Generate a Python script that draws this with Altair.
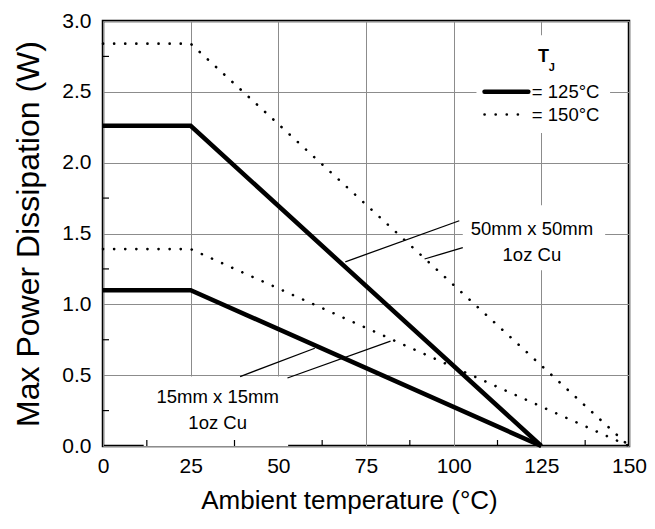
import altair as alt
import pandas as pd

# ---- data ----
x_tj125 = [0, 25, 125]
x_tj150 = [0, 25, 150]
p_50_tj125 = [2.26, 2.26, 0.0]
p_50_tj150 = [2.84, 2.84, 0.0]
p_15_tj125 = [1.10, 1.10, 0.0]
p_15_tj150 = [1.39, 1.39, 0.0]

x_ticks = [0, 25, 50, 75, 100, 125, 150]
y_ticks = [0.0, 0.5, 1.0, 1.5, 2.0, 2.5, 3.0]
x_minor = [12.5, 37.5, 62.5, 87.5, 112.5, 137.5]
y_minor = [0.25, 0.75, 1.25, 1.75, 2.25, 2.75]

# leader lines (start near label, end at curve)
lead_x1 = [101.6, 102.6, 39.1, 52.6]
lead_y1 = [1.59, 1.40, 0.49, 0.48]
lead_x2 = [69.1, 91.7, 60.4, 82.0]
lead_y2 = [1.30, 1.32, 0.69, 0.74]

# white label boxes
box_x1 = [106.5, 102.6, 11.6]
box_x2 = [144.6, 143.2, 52.8]
box_y1 = [2.21, 1.24, 0.0]
box_y2 = [2.90, 1.70, 0.49]

ann_text = ["50mm x 50mm", "1oz Cu", "15mm x 15mm", "1oz Cu"]
ann_x = [122.3, 122.3, 32.7, 32.7]
ann_y = [1.53, 1.35, 0.346, 0.162]

leg_labels = ["= 125°C", "= 150°C"]
leg_line_x1 = [108.8, 108.8]
leg_line_x2 = [121.3, 120.0]
leg_y = [2.50, 2.34]
leg_text_x = [122.3, 122.3]

rows = []
for name, xs, ps, tj in [
    ("50x50 125", x_tj125, p_50_tj125, "125"),
    ("50x50 150", x_tj150, p_50_tj150, "150"),
    ("15x15 125", x_tj125, p_15_tj125, "125"),
    ("15x15 150", x_tj150, p_15_tj150, "150"),
]:
    for xv, pv in zip(xs, ps):
        rows.append({"T": xv, "P": pv, "series": name, "tj": tj})
df = pd.DataFrame(rows)

FONT = "Liberation Sans, Arial"
W, H = 526, 425

xs = alt.Scale(domain=[0, 150], nice=False, zero=False)
ys = alt.Scale(domain=[0, 3.0], nice=False, zero=False)

base = alt.Chart(df)

x_enc = alt.X("T:Q", scale=xs,
              axis=alt.Axis(values=x_ticks, title="Ambient temperature (°C)", grid=True,
                            format="d", ticks=False, domain=False, labelPadding=9,
                            labelFlush=False, titlePadding=11, titleX=246, titleFontSize=26,
                            titleAlign="center", titleAnchor="start"))
y_enc = alt.Y("P:Q", scale=ys,
              axis=alt.Axis(values=y_ticks, title="Max Power Dissipation (W)", grid=True,
                            format=".1f", ticks=False, domain=False, labelPadding=12,
                            labelFlush=False, titlePadding=16, titleFontSize=32))

boxes = alt.Chart(pd.DataFrame({"x1": box_x1, "x2": box_x2, "y1": box_y1, "y2": box_y2})).mark_rect(
    fill="white").encode(
    x=alt.X("x1:Q", scale=xs), x2="x2:Q", y=alt.Y("y1:Q", scale=ys), y2="y2:Q")

lines125 = base.transform_filter(alt.datum.tj == "125").mark_line(
    color="black", strokeWidth=4.5, strokeCap="butt").encode(
    x=x_enc, y=y_enc, detail="series:N")

lines150 = base.transform_filter(alt.datum.tj == "150").mark_line(
    color="black", strokeWidth=2.6, strokeDash=[0.1, 11], strokeCap="round").encode(
    x=alt.X("T:Q", scale=xs), y=alt.Y("P:Q", scale=ys), detail="series:N")

leaders = alt.Chart(pd.DataFrame({"x1": lead_x1, "y1": lead_y1, "x2": lead_x2, "y2": lead_y2})).mark_rule(
    color="black", strokeWidth=1.3).encode(
    x=alt.X("x1:Q", scale=xs), y=alt.Y("y1:Q", scale=ys), x2="x2:Q", y2="y2:Q")

ann = alt.Chart(pd.DataFrame({"t": ann_text, "x": ann_x, "y": ann_y})).mark_text(
    font=FONT, fontSize=18.5, color="black", align="center", baseline="middle").encode(
    x=alt.X("x:Q", scale=xs), y=alt.Y("y:Q", scale=ys), text="t:N")

leg_df = pd.DataFrame({"lab": leg_labels, "x1": leg_line_x1, "x2": leg_line_x2,
                       "y": leg_y, "tx": leg_text_x})
leg_solid = alt.Chart(leg_df.iloc[[0]]).mark_rule(color="black", strokeWidth=4.5, strokeCap="round").encode(
    x=alt.X("x1:Q", scale=xs), x2="x2:Q", y=alt.Y("y:Q", scale=ys))
leg_dot = alt.Chart(leg_df.iloc[[1]]).mark_rule(color="black", strokeWidth=2.6,
                                                strokeDash=[0.1, 11], strokeCap="round").encode(
    x=alt.X("x1:Q", scale=xs), x2="x2:Q", y=alt.Y("y:Q", scale=ys))
leg_txt = alt.Chart(leg_df).mark_text(font=FONT, fontSize=18.5, color="black", align="left",
                                      baseline="middle").encode(
    x=alt.X("tx:Q", scale=xs), y=alt.Y("y:Q", scale=ys), text="lab:N")

tj_t = alt.Chart(pd.DataFrame({"t": ["T"], "x": [125.6], "y": [2.745]})).mark_text(
    font=FONT, fontSize=18, fontWeight="bold", color="black", align="center", baseline="middle").encode(
    x=alt.X("x:Q", scale=xs), y=alt.Y("y:Q", scale=ys), text="t:N")
tj_j = alt.Chart(pd.DataFrame({"t": ["J"], "x": [128.0], "y": [2.67]})).mark_text(
    font=FONT, fontSize=11, fontWeight="bold", color="black", align="center", baseline="middle").encode(
    x=alt.X("x:Q", scale=xs), y=alt.Y("y:Q", scale=ys), text="t:N")

xminor = alt.Chart(pd.DataFrame({"m": x_minor})).mark_rule(color="black", strokeWidth=1.2).encode(
    x=alt.X("m:Q", scale=xs), y=alt.value(H), y2=alt.value(H - 6))
yminor = alt.Chart(pd.DataFrame({"m": y_minor})).mark_rule(color="black", strokeWidth=1.2).encode(
    y=alt.Y("m:Q", scale=ys), x=alt.value(0), x2=alt.value(6))

chart = alt.layer(
    lines125, boxes, lines150, leaders, ann, leg_solid, leg_dot, leg_txt, tj_t, tj_j, xminor, yminor
).properties(
    width=W, height=H,
    autosize=alt.AutoSizeParams(type="none"),
    padding={"left": 95, "top": 13, "right": 18, "bottom": 70},
).configure_view(
    stroke="black", strokeWidth=2.5
).configure_axis(
    labelFont=FONT, labelFontSize=21, labelColor="black",
    titleFont=FONT, titleFontSize=28, titleFontWeight="normal", titleColor="black",
    gridColor="#8c8c8c", gridWidth=1, gridOpacity=1,
)

chart.save("out.html", embed_options={"renderer": "svg", "actions": False})
